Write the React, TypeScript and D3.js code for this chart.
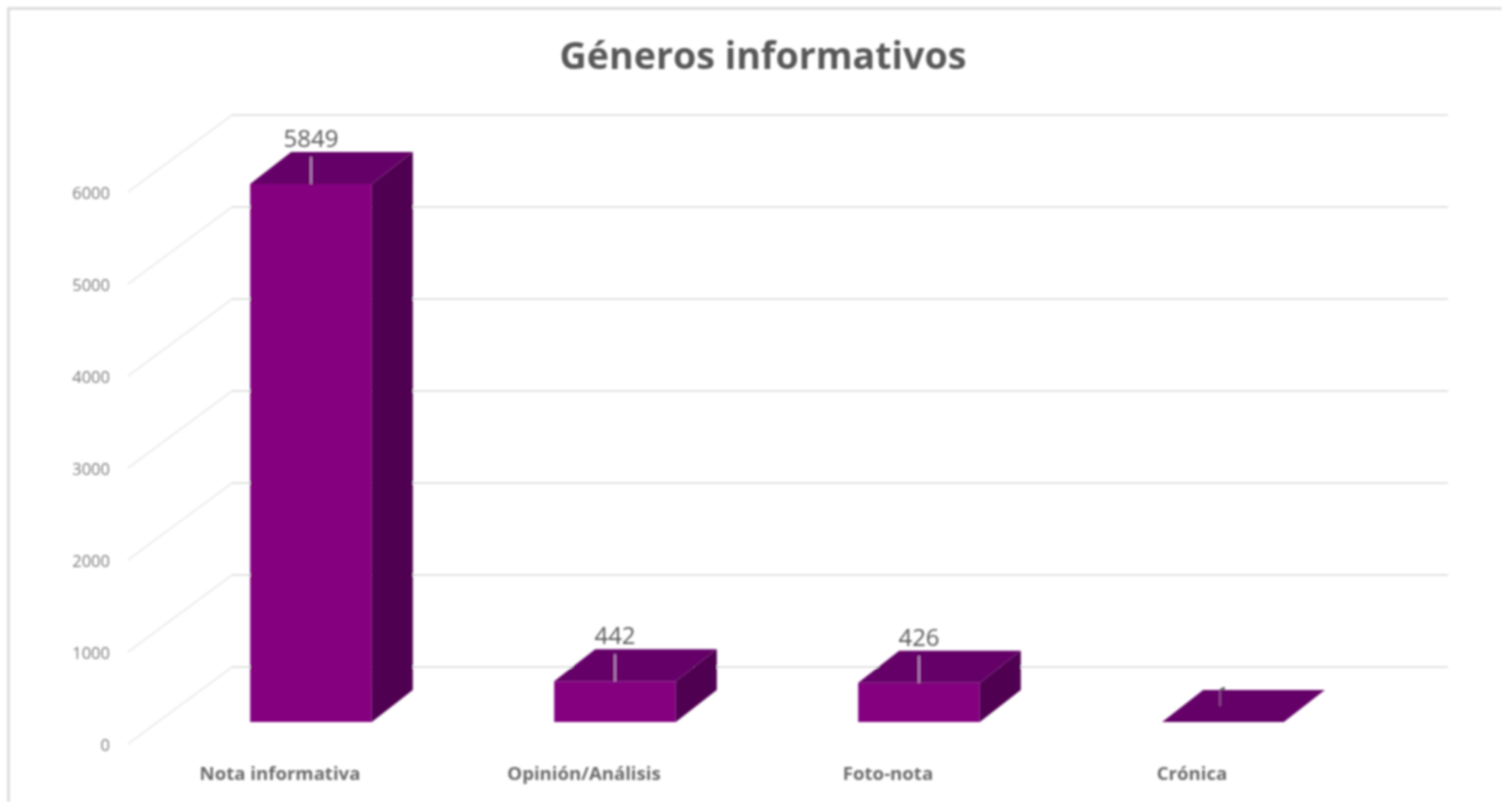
import React from "react";
import * as d3 from "d3";

const categories = ["Nota informativa", "Opinión/Análisis", "Foto-nota", "Crónica"];
const values = [5849, 442, 426, 1];
const valueLabels = ["5849", "442", "426", "1"];
const yTicks = [0, 1000, 2000, 3000, 4000, 5000, 6000];
const title = "Géneros informativos";

const W = 1502, H = 802;
const FONT = "'Open Sans', 'Noto Sans', sans-serif";

const x = d3.scaleBand<string>().domain(categories).range([159, 1375]).paddingInner(0.6).paddingOuter(0.3);
const wallY = d3.scaleLinear().domain([0, 6000]).range([667, 115]);
const barH = d3.scaleLinear().domain([0, 6000]).range([0, 552]);

const floorY = 722;
const depthX = 41, depthY = 32;
const poly = (pts: [number, number][]) => d3.line()(pts) + "Z";

export default function App() {
  const bw = x.bandwidth();
  return (
    <svg width={W} height={H} style={{ position: "absolute", left: 0, top: 0, background: "#fff" }}>
      <defs>
        <filter id="soft" x="-2%" y="-2%" width="104%" height="104%">
          <feGaussianBlur stdDeviation="0.9" />
        </filter>
      </defs>
      <g filter="url(#soft)">
        <path d={`M8.5,${H}V8.5H${W}`} fill="none" stroke="#d9d9d9" strokeWidth={2.5} />
        <text x={763} y={69} textAnchor="middle" fontFamily={FONT} fontWeight={700} fontSize={37.6} fill="#595959">{title}</text>
        {yTicks.map((t) => (
          <g key={t}>
            <path d={`M232,${wallY(t)}H1448`} fill="none" stroke="#e2e2e2" strokeWidth={1.8} />
            <path d={`M128,${wallY(t) + 77}L232,${wallY(t)}`} fill="none" stroke="#ebebeb" strokeWidth={1.6} />
            <text x={110} y={wallY(t) + 77 + 7} textAnchor="end" fontFamily={FONT} fontSize={16.5} fill="#7a7a7a">{t}</text>
          </g>
        ))}
        {categories.map((c, i) => {
          const x0 = x(c)!;
          const x1 = x0 + bw;
          const top = floorY - barH(values[i]);
          const flat = values[i] < 10;
          const cx = x0 + bw / 2;
          return (
            <g key={c}>
              <text x={cx} y={flat ? top - depthY + 14 : top - depthY - 5} textAnchor="middle" fontFamily={FONT} fontSize={24} fill="#595959">{valueLabels[i]}</text>
              <path d={poly([[x0, floorY], [x1, floorY], [x1, top], [x0, top]])} fill="#84007f" />
              <path d={poly([[x1, floorY], [x1 + depthX, floorY - depthY], [x1 + depthX, top - depthY], [x1, top]])} fill="#4f0051" />
              <path d={poly([[x0, top], [x1, top], [x1 + depthX, top - depthY], [x0 + depthX, top - depthY]])} fill="#650068" />
              <path d={flat ? `M${cx - 3},${top - depthY / 2}V${top - depthY + 1}` : `M${cx},${top}V${top - depthY + 5}`} stroke="#d9a9d6" strokeWidth={1.5} opacity={flat ? 0.5 : 1} />
              <text x={cx - 31} y={780} textAnchor="middle" fontFamily={FONT} fontWeight={700} fontSize={18.6} fill="#6a6a6a">{c}</text>
            </g>
          );
        })}
      </g>
    </svg>
  );
}
